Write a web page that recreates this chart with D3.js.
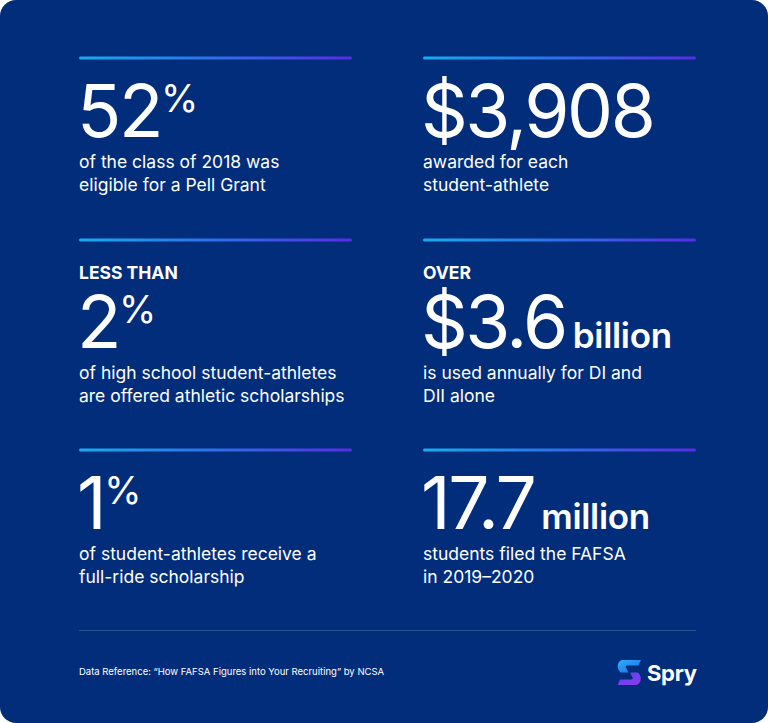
<!DOCTYPE html>
<html>
<head>
<meta charset="utf-8">
<script src="https://cdn.jsdelivr.net/npm/d3@7/dist/d3.min.js"></script>
<style>
  html, body { margin: 0; padding: 0; background: #ffffff; }
  svg { display: block; }
  text { font-family: Inter, "Noto Sans", sans-serif; fill: #ffffff; }
</style>
</head>
<body>
<script>
// ---- data ----
const statValues   = ["52", "3,908", "2", "3.6", "1", "17.7"];
const statPrefixes = ["", "$", "", "$", "", ""];
const statSuffixes = ["%", "", "%", "billion", "%", "million"];
const suffixKinds  = ["sup", "none", "sup", "word", "sup", "word"];
const qualifiers   = ["", "", "LESS THAN", "OVER", "", ""];
const descriptions = [
  ["of the class of 2018 was", "eligible for a Pell Grant"],
  ["awarded for each", "student-athlete"],
  ["of high school student-athletes", "are offered athletic scholarships"],
  ["is used annually for DI and", "DII alone"],
  ["of student-athletes receive a", "full-ride scholarship"],
  ["students filed the FAFSA", "in 2019\u20132020"]
];
const sourceNote = "Data Reference: \u201CHow FAFSA Figures into Your Recruiting\u201D by NCSA";
const brandName = "Spry";

// ---- layout ----
const W = 768, H = 723;
const svg = d3.select("body").append("svg").attr("width", W).attr("height", H);

const defs = svg.append("defs");
const lg = defs.append("linearGradient").attr("id", "rule").attr("x1", "0%").attr("x2", "100%");
lg.append("stop").attr("offset", "0%").attr("stop-color", "#19acf0");
lg.append("stop").attr("offset", "50%").attr("stop-color", "#2d6fe8");
lg.append("stop").attr("offset", "100%").attr("stop-color", "#5a2ce6");

const lgTop = defs.append("linearGradient").attr("id", "logoTop").attr("x1", "0%").attr("x2", "100%").attr("y1", "0%").attr("y2", "100%");
lgTop.append("stop").attr("offset", "0%").attr("stop-color", "#25b4f6");
lgTop.append("stop").attr("offset", "100%").attr("stop-color", "#2a62ee");
const lgBot = defs.append("linearGradient").attr("id", "logoBot").attr("x1", "0%").attr("x2", "100%").attr("y1", "0%").attr("y2", "100%");
lgBot.append("stop").attr("offset", "0%").attr("stop-color", "#5b43f0");
lgBot.append("stop").attr("offset", "100%").attr("stop-color", "#8a3cec");

svg.append("rect").attr("x", 0).attr("y", 0).attr("width", W).attr("height", H)
  .attr("rx", 16).attr("fill", "#012d7b");

const idx = d3.range(statValues.length);
const colX = d3.scaleOrdinal().domain([0, 1]).range([79, 423]);
const rowY = d3.scaleOrdinal().domain([0, 1, 2]).range([58, 240, 450]);
const ruleLen = 273;

const g = svg.selectAll("g.stat").data(idx).join("g")
  .attr("class", "stat")
  .attr("transform", i => `translate(${colX(i % 2)},${rowY(Math.floor(i / 2))})`);

g.append("rect").attr("x", 0).attr("y", -1.5).attr("width", ruleLen).attr("height", 3)
  .attr("rx", 1.5).attr("fill", "url(#rule)");

g.filter(i => qualifiers[i]).append("text")
  .attr("x", 0).attr("y", 39)
  .attr("font-size", 17.5).attr("font-weight", 700)
  .text(i => qualifiers[i]);

const numOffset = i => qualifiers[i] ? 108 : 79;

const num = g.append("text")
  .attr("x", -2).attr("y", i => numOffset(i))
  .attr("font-size", 73).attr("font-weight", 400);
num.append("tspan").attr("letter-spacing", -2.5).text(i => statPrefixes[i] + statValues[i]);
num.filter(i => suffixKinds[i] === "sup").append("tspan")
  .attr("dx", 0).attr("dy", -25).attr("font-size", 38)
  .text(i => statSuffixes[i]);
num.filter(i => suffixKinds[i] === "word").append("tspan")
  .attr("dx", 7).attr("font-size", 35).attr("font-weight", 600).attr("letter-spacing", -0.3)
  .text(i => statSuffixes[i]);

g.each(function(i) {
  const t = d3.select(this).append("text")
    .attr("font-size", 17.5).attr("font-weight", 400).attr("fill", "#f2f4f9");
  descriptions[i].forEach((line, k) => {
    t.append("tspan").attr("x", 0).attr("y", numOffset(i) + 31 + k * 23).text(line);
  });
});

// footer
svg.append("line").attr("x1", 79).attr("x2", 696).attr("y1", 630.5).attr("y2", 630.5)
  .attr("stroke", "#26508f").attr("stroke-width", 1);

svg.append("text").attr("x", 79).attr("y", 675)
  .attr("font-size", 9.5).attr("font-weight", 400)
  .text(sourceNote);

// logo
const logo = svg.append("g").attr("transform", "translate(617,660)");
logo.append("path").attr("fill", "url(#logoTop)")
  .attr("d", "M6 0 L24 0 L21.5 5.5 L10 5.5 Q8 5.5 8.8 7.3 L11.5 12.5 L3.5 12.5 Q0.2 9 0.8 5 Q1.8 0 6 0 Z");
logo.append("path").attr("fill", "url(#logoBot)")
  .attr("d", "M18 25 L0.5 25 L3 19.5 L14.5 19.5 Q16.5 19.5 15.7 17.7 L13 12.5 L21 12.5 Q24.3 16 23.7 20 Q22.7 25 18 25 Z");

svg.append("text").attr("x", 647).attr("y", 681)
  .attr("font-size", 22).attr("font-weight", 700).attr("letter-spacing", -0.3)
  .text(brandName);
</script>
</body>
</html>
